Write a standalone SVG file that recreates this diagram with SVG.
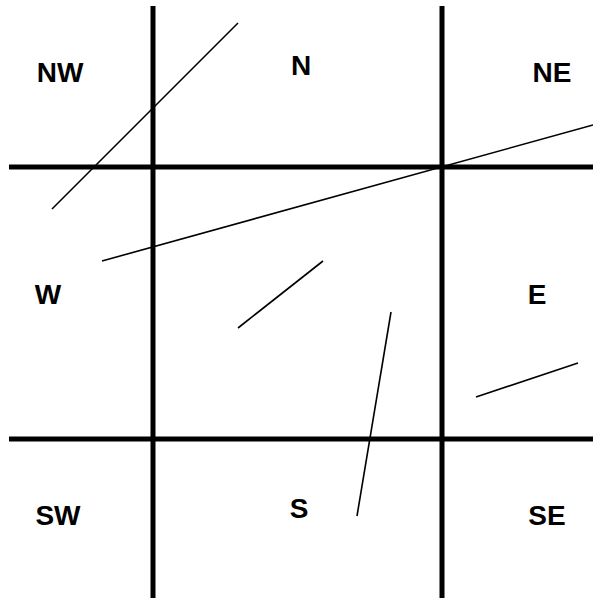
<svg xmlns="http://www.w3.org/2000/svg" width="593" height="598" viewBox="0 0 593 598">
<style>
.grid{stroke:#000;stroke-width:5;fill:none}
.seg{stroke:#000;stroke-width:1.6;fill:none}
.lbl{font-family:"Liberation Sans",Arial,sans-serif;font-weight:bold;font-size:28px;fill:#000;text-anchor:middle}
</style>
<rect width="593" height="598" fill="#fff"/>
<g id="grid">
<line class="grid" x1="153" y1="6" x2="153" y2="598"/>
<line class="grid" x1="442" y1="6" x2="442" y2="598"/>
<line class="grid" x1="9" y1="167" x2="593" y2="167"/>
<line class="grid" x1="9" y1="439" x2="593" y2="439"/>
</g>
<g id="segments">
<line class="seg" x1="52" y1="209" x2="238" y2="23"/>
<line class="seg" x1="102" y1="261" x2="593" y2="125"/>
<line class="seg" x1="238" y1="328" x2="323" y2="261"/>
<line class="seg" x1="391" y1="312" x2="357" y2="516"/>
<line class="seg" x1="476" y1="397" x2="578" y2="363"/>
</g>
<g id="labels">
<text class="lbl" x="60" y="82">NW</text>
<text class="lbl" x="301" y="75">N</text>
<text class="lbl" x="552" y="82">NE</text>
<text class="lbl" x="48" y="304">W</text>
<text class="lbl" x="537" y="304">E</text>
<text class="lbl" x="299" y="518">S</text>
<text class="lbl" x="58" y="525">SW</text>
<text class="lbl" x="547" y="525">SE</text>
</g>
</svg>
